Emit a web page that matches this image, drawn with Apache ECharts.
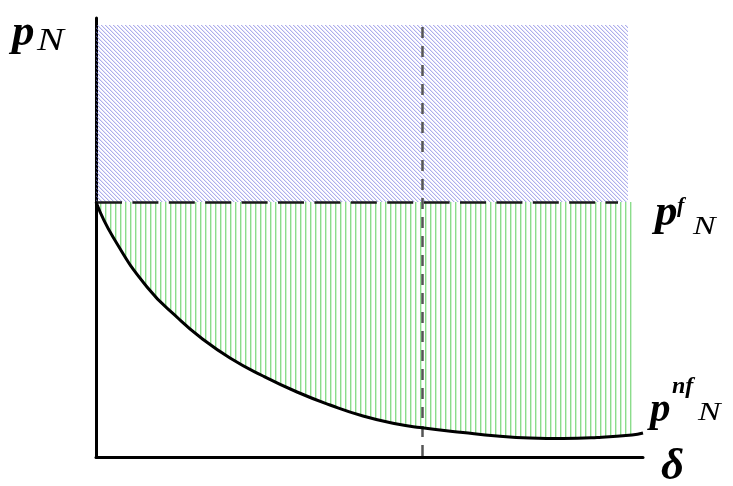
<!DOCTYPE html>
<html>
<head>
<meta charset="utf-8">
<script src="https://cdn.jsdelivr.net/npm/echarts@6/dist/echarts.min.js"></script>
<style>
html,body{margin:0;padding:0;background:#fff;}
#chart{width:733px;height:486px;}
</style>
</head>
<body>
<div id="chart"></div>
<script>
// ---- data (axis units: x = delta, y = price) ----
const xMax = 547;
const yMax = 439;
const curveX = [0, 17, 51, 84, 104, 134, 167, 201, 234, 267, 301, 324, 367, 401, 434, 467, 501, 536, 547];
const curveY = [255, 220, 170, 137, 120, 99, 81, 65, 52, 41, 33, 29.5, 24.5, 21, 19, 18.5, 19.5, 22, 24];
const pfLevel = 255;          // p^f_N
const pfLineEnd = 522;        // end of dashed p^f_N line
const blueTop = 432;          // top of blue hatched region
const blueRight = 532;
const greenRight = 536;
const deltaMark = 326;        // vertical dashed line
const deltaMarkTop = 430;

// ---- hatch patterns ----
function makePattern(w, h, draw) {
  const c = document.createElement('canvas');
  c.width = w; c.height = h;
  draw(c.getContext('2d'));
  return c;
}
const bluePat = makePattern(4, 4, ctx => {
  for (let i = 0; i < 4; i++) {
    ctx.fillStyle = 'rgba(125,125,225,0.62)';
    ctx.fillRect(i, i, 1, 1);
    ctx.fillStyle = 'rgba(125,125,225,0.2)';
    ctx.fillRect((i + 1) % 4, i, 1, 1);
  }
});
const greenPat = makePattern(5, 1, ctx => {
  ctx.fillStyle = 'rgba(90,205,90,0.7)';
  ctx.fillRect(0, 0, 1, 1);
  ctx.fillStyle = 'rgba(90,205,90,0.28)';
  ctx.fillRect(1, 0, 1, 1);
});

const curveData = curveX.map((x, i) => [x, curveY[i]]);
const greenData = curveData.filter(d => d[0] <= greenRight);

const chart = echarts.init(document.getElementById('chart'));
const serif = '"Liberation Serif", "DejaVu Serif", serif';
function txt(x, y, text, size, bold, sx) {
  return {
    type: 'text', x: x, y: y, silent: true, scaleX: sx || 1,
    style: {
      text: text,
      font: 'italic ' + (bold ? 'bold ' : '') + size + 'px ' + serif,
      fill: '#000',
      align: 'left',
      verticalAlign: 'middle'
    }
  };
}
chart.setOption({
  animation: false,
  backgroundColor: '#fff',
  grid: { left: 96, right: 90, top: 18, bottom: 29 },
  xAxis: {
    type: 'value', min: 0, max: xMax,
    axisLine: { show: true, onZero: false, lineStyle: { color: '#000', width: 3 } },
    axisTick: { show: false }, axisLabel: { show: false }, splitLine: { show: false }
  },
  yAxis: {
    type: 'value', min: 0, max: yMax,
    axisLine: { show: true, onZero: false, lineStyle: { color: '#000', width: 3 } },
    axisTick: { show: false }, axisLabel: { show: false }, splitLine: { show: false }
  },
  series: [
    {
      type: 'line', data: greenData, smooth: 0.5,
      showSymbol: false, silent: true,
      lineStyle: { opacity: 0 },
      areaStyle: { color: { image: greenPat, repeat: 'repeat' }, opacity: 1, origin: pfLevel }
    },
    {
      type: 'line', data: curveData, smooth: 0.5,
      showSymbol: false, silent: true, z: 5,
      lineStyle: { color: '#000', width: 3 },
      markArea: {
        silent: true,
        itemStyle: { color: { image: bluePat, repeat: 'repeat' } },
        label: { show: false },
        data: [[{ coord: [0, blueTop] }, { coord: [blueRight, pfLevel] }]]
      },
      markLine: {
        silent: true, symbol: ['none', 'none'],
        label: { show: false },
        data: [
          [{ coord: [0, pfLevel], lineStyle: { color: '#1a1a1a', width: 2.5, type: [26, 10.4] } },
           { coord: [pfLineEnd, pfLevel] }],
          [{ coord: [deltaMark, deltaMarkTop], lineStyle: { color: '#555', width: 2.5, type: [11, 8] } },
           { coord: [deltaMark, 0] }]
        ]
      }
    }
  ],
  graphic: [
    txt(12, 33, 'p', 45, true),
    txt(37, 42, 'N', 31, false, 1.3),
    txt(655, 213, 'p', 45, true),
    txt(677, 206, 'f', 22, true),
    txt(693, 227, 'N', 26, false, 1.3),
    txt(650, 410, 'p', 41, true),
    txt(672, 387, 'nf', 24, true),
    txt(698, 413, 'N', 26, false, 1.3),
    txt(661, 467, 'δ', 45, true)
  ]
});
</script>
</body>
</html>
